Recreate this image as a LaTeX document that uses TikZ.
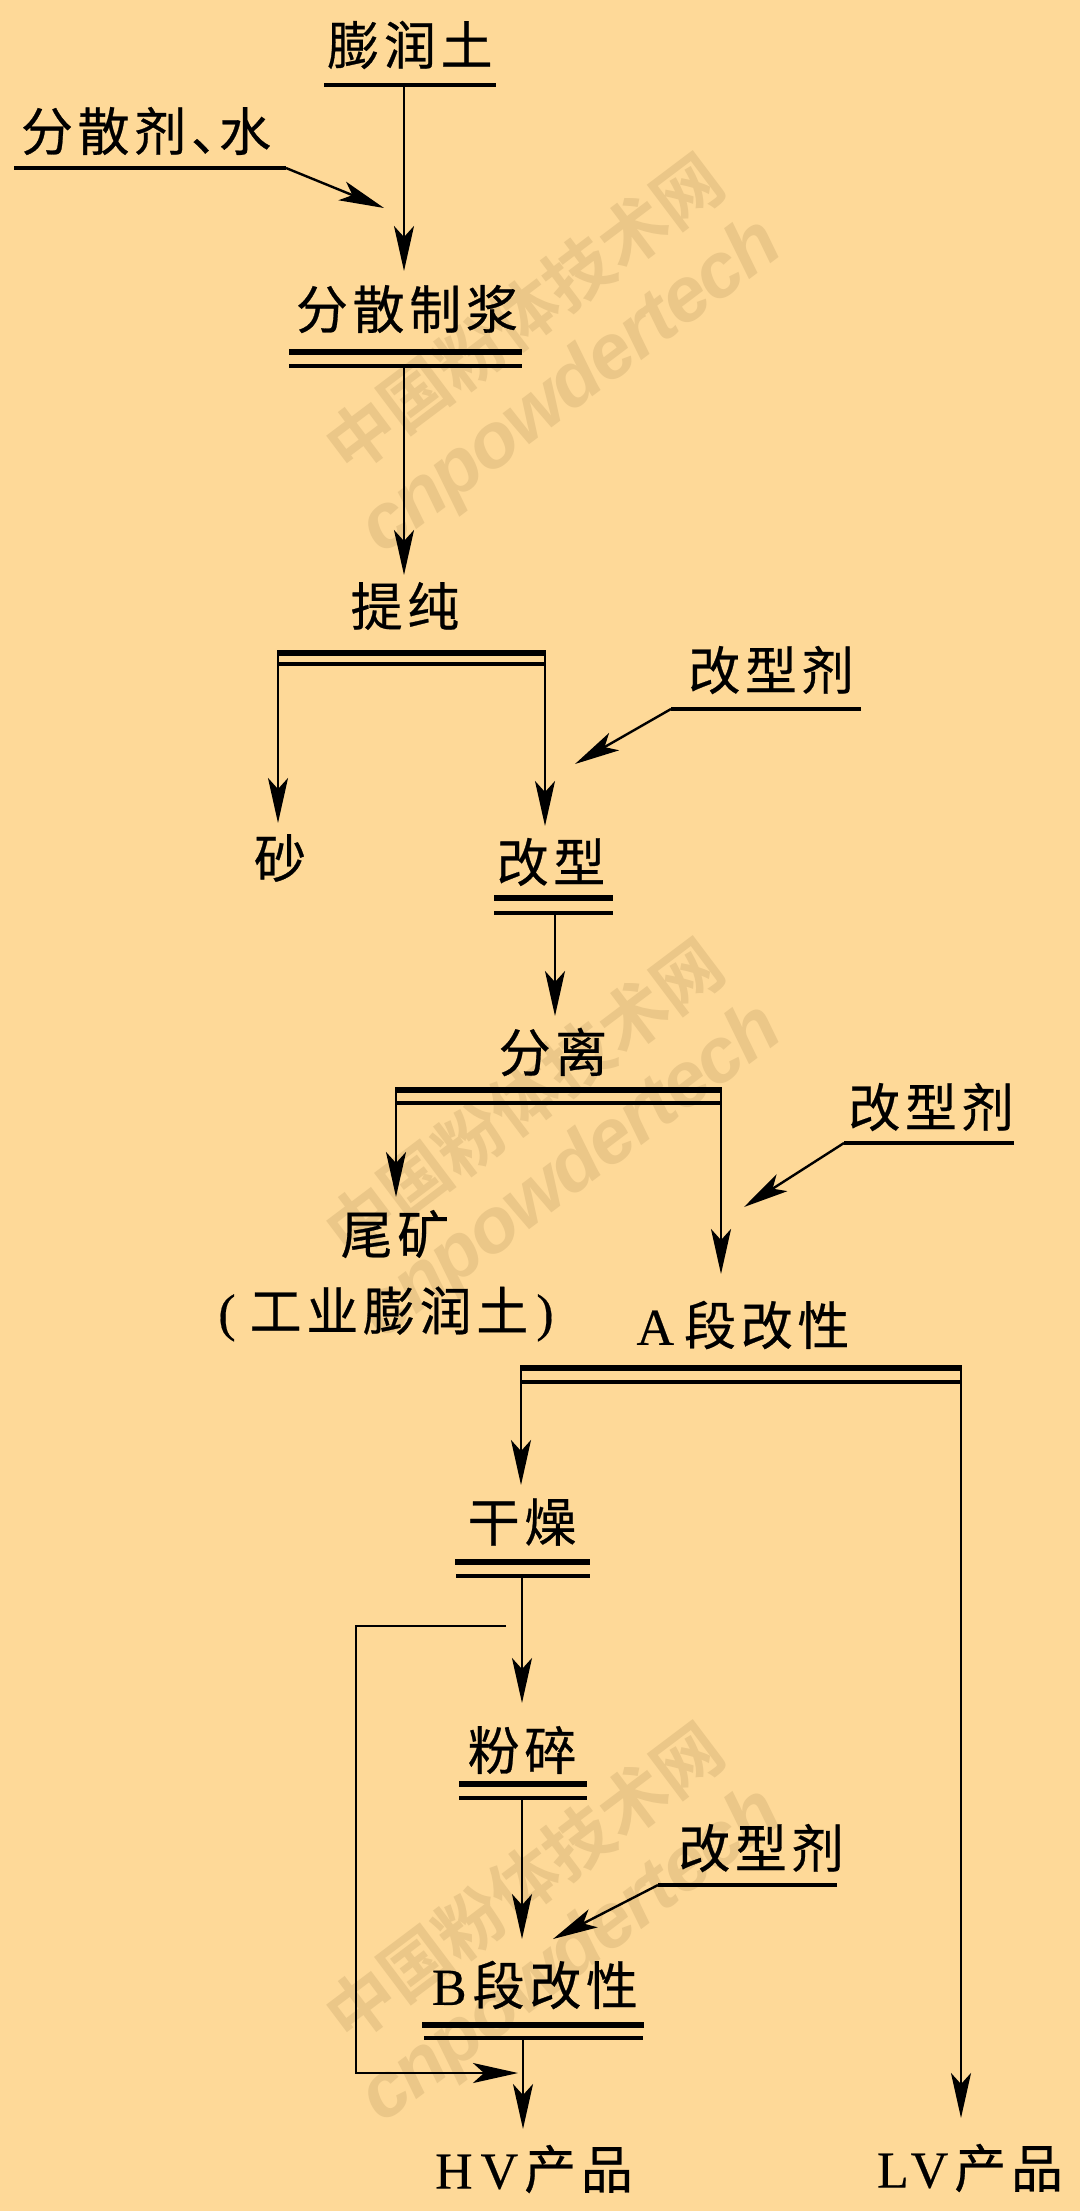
\documentclass[tikz,border=0pt]{standalone}
\usepackage{fontspec}
\usetikzlibrary{arrows.meta}
\setmainfont{Noto Sans CJK SC}
\newfontfamily\cjkw[LetterSpace=9,FakeBold=0.5]{Noto Sans CJK SC}
\newfontfamily\latw[FakeBold=0.4]{Liberation Serif}
\newfontfamily\wmA{Noto Sans CJK SC Bold}
\newfontfamily\wmB[LetterSpace=-2]{Liberation Sans}
\definecolor{bgc}{HTML}{FED998}
\definecolor{wmc}{HTML}{EBC788}
\tikzset{
  lab/.style={inner sep=0pt,font=\fontsize{52}{58}\selectfont\cjkw,text=black,anchor=center},
  flow/.style={line width=2.4pt,draw=black,-{Stealth[length=45pt,width=20pt,inset=11pt]}},
  plain/.style={line width=3.2pt,draw=black},
  thickbar/.style={line width=5.5pt,draw=black},
  thinbar/.style={line width=3.5pt,draw=black},
  wmtop/.style={inner sep=0pt,rotate=37,text=wmc,font=\fontsize{68}{72}\selectfont\wmA},
  wmbot/.style={inner sep=0pt,rotate=37,text=wmc,font=\fontsize{77}{82}\selectfont\bfseries\itshape\wmB},
}
\begin{document}
\begin{tikzpicture}[x=1pt,y=-1pt]
\fill[bgc] (0,0) rectangle (1080,2211);
\useasboundingbox (0,0) rectangle (1080,2211);
% watermark
\node[wmtop] (w1a) at (524,313) {中国粉体技术网};
\node[wmbot] (w1b) at (572,388) {cnpowdertech};
\node[wmtop] (w2a) at (524,1098) {中国粉体技术网};
\node[wmbot] (w2b) at (572,1173) {cnpowdertech};
\node[wmtop] (w3a) at (524,1882) {中国粉体技术网};
\node[wmbot] (w3b) at (572,1957) {cnpowdertech};
% labels
\node[lab] (bent) at (410,45) {膨润土};
\node[lab] (disp) at (146,131) {分散剂、\hspace{-24pt}水};
\node[lab] (slur) at (407,309) {分散制浆};
\node[lab] (puri) at (405,606) {提纯};
\node[lab] (mod1) at (771,670) {改型剂};
\node[lab] (sand) at (280,858) {砂};
\node[lab] (modi) at (551,862) {改型};
\node[lab] (sepa) at (553,1052) {分离};
\node[lab] (mod2) at (931,1107) {改型剂};
\node[lab] (tail) at (395,1234) {尾矿};
\node[lab] (indu) at (386,1314) {{\latw (}\hspace{14pt}工业膨润土\hspace{8pt}{\latw )}};
\node[lab] (asec) at (743,1325) {{\latw A}\hspace{10pt}段改性};
\node[lab] (dry) at (522,1522) {干燥};
\node[lab] (mill) at (522,1750) {粉碎};
\node[lab] (mod3) at (761,1848) {改型剂};
\node[lab] (bsec) at (535,1985) {{\latw B}\hspace{6pt}段改性};
\node[lab] (hv) at (534,2169) {{\latw H}\hspace{8pt}{\latw V}\hspace{6pt}产品};
\node[lab] (lv) at (970,2168) {{\latw L}\hspace{2pt}{\latw V}\hspace{6pt}产品};
% bars
\coordinate (b0) at (404,85);
\draw[line width=4.5pt] (324,85) -- (496,85);
\coordinate (b1) at (404,366);
\draw[thickbar] (289,352) -- (522,352);
\draw[thinbar] (289,366) -- (522,366);
\coordinate (b2l) at (278,652);
\coordinate (b2r) at (545,652);
\draw[thickbar] (277,653) -- (546,653);
\draw[thinbar] (277,664) -- (546,664);
\coordinate (b3) at (555,913);
\draw[thickbar] (494,898) -- (613,898);
\draw[thinbar] (494,913) -- (613,913);
\coordinate (b4l) at (396,1090);
\coordinate (b4r) at (721,1090);
\draw[thickbar] (395,1090) -- (722,1090);
\draw[thinbar] (395,1103) -- (722,1103);
\coordinate (b5l) at (521,1368);
\coordinate (b5r) at (961,1368);
\draw[thickbar] (520,1368) -- (962,1368);
\draw[thinbar] (520,1382) -- (962,1382);
\coordinate (b6) at (522,1576);
\draw[thickbar] (455,1562) -- (590,1562);
\draw[thinbar] (456,1576) -- (590,1576);
\coordinate (b7) at (522,1798);
\draw[thickbar] (459,1784) -- (587,1784);
\draw[thinbar] (459,1798) -- (587,1798);
\coordinate (b8) at (523,2038);
\draw[line width=6.5pt] (422,2025) -- (644,2025);
\draw[line width=4.5pt] (424,2038) -- (643,2038);
% free ends
\coordinate (t0) at (404,271);
\coordinate (t1) at (404,575);
\coordinate (t2l) at (278,823);
\coordinate (t2r) at (545,826);
\coordinate (t3) at (555,1016);
\coordinate (t4l) at (396,1197);
\coordinate (t4r) at (721,1274);
\coordinate (t5l) at (521,1485);
\coordinate (t5r) at (961,2118);
\coordinate (t6) at (522,1703);
\coordinate (t7) at (522,1939);
\coordinate (t8) at (523,2129);
% main flow
\draw[flow] (b0) -- (t0);
\draw[flow] (b1) -- (t1);
\draw[flow] (b2l) -- (t2l);
\draw[flow] (b2r) -- (t2r);
\draw[flow] (b3) -- (t3);
\draw[flow] (b4l) -- (t4l);
\draw[flow] (b4r) -- (t4r);
\draw[flow] (b5l) -- (t5l);
\draw[flow] (b5r) -- (t5r);
\draw[flow] (b6) -- (t6);
\draw[flow] (b7) -- (t7);
\draw[flow] (b8) -- (t8);
% additive inputs
\coordinate (a0s) at (14,168); \coordinate (a0k) at (286,168); \coordinate (a0t) at (384,208);
\draw[plain] (a0s) -- (a0k);
\draw[flow] (a0k) -- (a0t);
\coordinate (a1s) at (861,709); \coordinate (a1k) at (671,709); \coordinate (a1t) at (575,764);
\draw[plain] (a1s) -- (a1k);
\draw[flow] (a1k) -- (a1t);
\coordinate (a2s) at (1014,1143); \coordinate (a2k) at (844,1143); \coordinate (a2t) at (744,1207);
\draw[plain] (a2s) -- (a2k);
\draw[flow] (a2k) -- (a2t);
\coordinate (a3s) at (837,1885); \coordinate (a3k) at (658,1885); \coordinate (a3t) at (553,1939);
\draw[plain] (a3s) -- (a3k);
\draw[flow] (a3k) -- (a3t);
% bypass
\coordinate (bp0) at (506,1626); \coordinate (bp1) at (356,1626); \coordinate (bp2) at (356,2073); \coordinate (bp3) at (518,2073);
\draw[flow] (bp0) -- (bp1) -- (bp2) -- (bp3);
\end{tikzpicture}
\end{document}
